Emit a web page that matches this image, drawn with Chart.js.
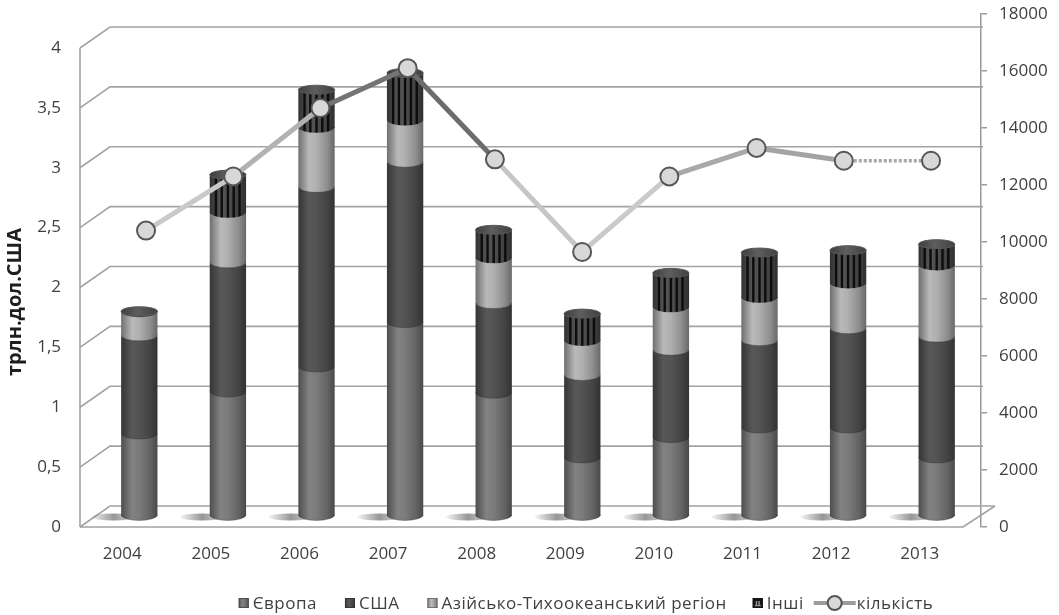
<!DOCTYPE html>
<html>
<head>
<meta charset="utf-8">
<script src="https://cdn.jsdelivr.net/npm/chart.js@4.4.1/dist/chart.umd.min.js"></script>
<style>
  html, body { margin: 0; padding: 0; background: #ffffff; }
  #wrap { width: 1059px; height: 615px; }
</style>
</head>
<body>
<div id="wrap"><canvas id="chart" width="1059" height="615"></canvas></div>
<script>
// ---- data ----
const years = ['2004', '2005', '2006', '2007', '2008', '2009', '2010', '2011', '2012', '2013'];
const europe      = [0.68, 1.03, 1.24, 1.61, 1.02, 0.48, 0.65, 0.73, 0.73, 0.48];
const usa         = [0.82, 1.08, 1.50, 1.34, 0.75, 0.69, 0.73, 0.73, 0.83, 1.01];
const asiaPacific = [0.20, 0.42, 0.50, 0.35, 0.38, 0.29, 0.36, 0.36, 0.38, 0.60];
const others      = [0.01, 0.32, 0.32, 0.40, 0.24, 0.23, 0.29, 0.38, 0.28, 0.18];
const kilkist     = [10400, 12300, 14700, 16100, 12900, 9650, 12300, 13300, 12850, 12850];

const leftTicks  = [0, 0.5, 1, 1.5, 2, 2.5, 3, 3.5, 4];
const rightTicks = [0, 2000, 4000, 6000, 8000, 10000, 12000, 14000, 16000, 18000];
const seriesNames = ['Європа', 'США', 'Азійсько-Тихоокеанський регіон', 'Інші', 'кількість'];
const axisTitle = 'трлн.дол.США';

// ---- styling ----
const barTones = [118, 80, 168, 76];          // grey level of each stacked series
const segmentGreys = ['#c9c9c9', '#b2b2b2', '#747474', '#6c6c6c', '#c6c6c6', '#cacaca', '#a9a9a9', '#a3a3a3', '#a8a8a8'];
const BAR_FRACTION = 0.41;
const TEXT = '#3f3f3f';
const FONT = '"Open Sans", "Liberation Sans", sans-serif';

function grey(v, a) {
  v = Math.max(0, Math.min(255, Math.round(v)));
  return a === undefined ? `rgb(${v},${v},${v})` : `rgba(${v},${v},${v},${a})`;
}

function cylGradient(ctx, cx, w, g) {
  const gr = ctx.createLinearGradient(cx - w / 2, 0, cx + w / 2, 0);
  gr.addColorStop(0.00, grey(g * 0.66));
  gr.addColorStop(0.30, grey(g * 1.10));
  gr.addColorStop(0.50, grey(g * 1.04));
  gr.addColorStop(0.80, grey(g * 0.84));
  gr.addColorStop(1.00, grey(g * 0.62));
  return gr;
}

function barFill(tone) {
  return (c) => {
    const ch = c.chart;
    const xs = ch.scales && ch.scales.x;
    if (!xs || !ch.chartArea) return grey(tone);
    const cx = xs.getPixelForValue(c.dataIndex);
    const w = (xs.width / years.length) * BAR_FRACTION;
    return cylGradient(ch.ctx, cx, w, tone);
  };
}

// vertical axes keep the plot area flush with the layout padding
function noEdgePadding(s) {
  s.paddingTop = 0;
  s.paddingBottom = 0;
}

// ---- 3D frame: walls, gridlines, floor and floor shadows ----
const frame3d = {
  id: 'frame3d',
  beforeDatasetsDraw(chart) {
    const ctx = chart.ctx;
    const a = chart.chartArea;
    const yl = chart.scales.yL;
    const yb = chart.scales.yBar;
    const xs = chart.scales.x;
    const fx = a.left - 15, dx = 30, dy = -21;
    ctx.save();
    ctx.strokeStyle = '#a3a3a3';
    ctx.lineWidth = 1.6;
    leftTicks.forEach((v) => {
      const y = yl.getPixelForValue(v);
      ctx.beginPath();
      ctx.moveTo(fx, y);
      ctx.lineTo(fx + dx, y + dy);
      ctx.lineTo(v === 0 ? a.right + 14 : a.right + 2, y + dy);
      ctx.stroke();
    });
    const y0 = yl.getPixelForValue(0);
    ctx.beginPath();
    ctx.moveTo(fx, yl.getPixelForValue(4));
    ctx.lineTo(fx, y0);
    ctx.stroke();
    ctx.beginPath();
    ctx.moveTo(fx, y0);
    ctx.lineTo(a.right - 18, y0);
    ctx.lineTo(a.right + 14, y0 + dy);
    ctx.stroke();

    // soft shadows on the floor, falling to the left of each column
    const base = yb.getPixelForValue(0);
    const w = (xs.width / years.length) * BAR_FRACTION;
    years.forEach((_, i) => {
      const cx = xs.getPixelForValue(i);
      const sx = cx - w / 2 - 8;
      const g = ctx.createLinearGradient(sx - 24, 0, sx + 14, 0);
      g.addColorStop(0, 'rgba(80,80,80,0)');
      g.addColorStop(0.65, 'rgba(80,80,80,0.6)');
      g.addColorStop(1, 'rgba(100,100,100,0.4)');
      ctx.fillStyle = g;
      ctx.beginPath();
      ctx.ellipse(sx, base + 1, 22, 3.4, 0, 0, Math.PI * 2);
      ctx.fill();
    });
    ctx.restore();
  }
};

// ---- cylinder details: curved seams, stripes and caps ----
const cylinders = {
  id: 'cylinders',
  beforeDatasetDraw(chart, args) {
    if (args.index !== 4) return;
    const ctx = chart.ctx;
    const ry = 4.5;
    const values = [europe, usa, asiaPacific, others];
    ctx.save();
    years.forEach((_, i) => {
      const els = [0, 1, 2, 3].map((d) => chart.getDatasetMeta(d).data[i]);
      const cx = els[0].x;
      const w = els[0].width;
      els.forEach((el, d) => {
        if (values[d][i] <= 0) return;
        ctx.fillStyle = cylGradient(ctx, cx, w, barTones[d]);
        ctx.beginPath();
        ctx.ellipse(cx, el.base - 1, w / 2, ry + 1, 0, 0, Math.PI);
        ctx.closePath();
        ctx.fill();
        ctx.strokeStyle = 'rgba(45,45,45,0.35)';
        ctx.lineWidth = 1;
        ctx.beginPath();
        ctx.ellipse(cx, el.base - 1, w / 2 - 0.5, ry + 1, 0, 0, Math.PI);
        ctx.stroke();
      });
      const e3 = els[3];
      if (others[i] > 0.05) {
        ctx.save();
        ctx.beginPath();
        ctx.rect(cx - w / 2, e3.y, w, e3.base - e3.y);
        ctx.ellipse(cx, e3.base - 1, w / 2, ry + 1, 0, 0, Math.PI);
        ctx.clip();
        ctx.strokeStyle = '#0c0c0c';
        ctx.lineWidth = 2.4;
        [-0.33, -0.17, 0, 0.16, 0.32].forEach((f) => {
          ctx.beginPath();
          ctx.moveTo(cx + f * w, e3.y);
          ctx.lineTo(cx + f * w, e3.base + ry + 1);
          ctx.stroke();
        });
        ctx.restore();
      }
      let top = els[0];
      els.forEach((el, d) => { if (values[d][i] > 0) top = el; });
      const cg = ctx.createLinearGradient(cx - w / 2, 0, cx + w / 2, 0);
      cg.addColorStop(0, '#3e3e3e');
      cg.addColorStop(0.45, '#5e5e5e');
      cg.addColorStop(1, '#404040');
      ctx.fillStyle = cg;
      ctx.strokeStyle = '#585858';
      ctx.lineWidth = 1;
      ctx.beginPath();
      ctx.ellipse(cx, top.y, w / 2, ry, 0, 0, Math.PI * 2);
      ctx.fill();
      ctx.stroke();
    });
    ctx.restore();
  }
};

// ---- rotated axis title ----
const sideTitle = {
  id: 'sideTitle',
  afterDraw(chart) {
    const ctx = chart.ctx;
    ctx.save();
    ctx.translate(15, 302);
    ctx.rotate(-Math.PI / 2);
    ctx.font = `bold 20px ${FONT}`;
    ctx.fillStyle = '#1e1e1e';
    ctx.textAlign = 'center';
    ctx.textBaseline = 'middle';
    ctx.fillText(axisTitle, 0, 0);
    ctx.restore();
  }
};

// ---- legend ----
const legendRow = {
  id: 'legendRow',
  afterDraw(chart) {
    const ctx = chart.ctx;
    const y = 603;
    const centerX = 586;
    ctx.save();
    ctx.font = `17px ${FONT}`;
    if ('letterSpacing' in ctx) ctx.letterSpacing = '0.5px';
    ctx.textBaseline = 'middle';
    const items = seriesNames.map((name, k) => ({
      name, k, icon: k === 4 ? 42 : 10, gap: k === 4 ? 1 : 4, w: ctx.measureText(name).width
    }));
    const spacing = [28, 28, 26, 10];
    let total = 0;
    items.forEach((it, k) => { total += it.icon + it.gap + it.w + (k < 4 ? spacing[k] : 0); });
    let x = centerX - total / 2;
    items.forEach((it, k) => {
      if (k < 4) {
        const tone = barTones[k];
        const g = ctx.createLinearGradient(x, 0, x + 10, 0);
        g.addColorStop(0, grey(tone * 0.75));
        g.addColorStop(0.4, grey(tone * 1.12));
        g.addColorStop(1, grey(tone * 0.7));
        ctx.fillStyle = g;
        ctx.fillRect(x, y - 5, 10, 10);
        ctx.strokeStyle = grey(tone * 0.6);
        ctx.lineWidth = 0.8;
        ctx.strokeRect(x + 0.4, y - 4.6, 9.2, 9.2);
        if (k === 3) {
          ctx.fillStyle = '#151515';
          ctx.fillRect(x, y - 5, 10, 10);
          ctx.fillStyle = '#9a9a9a';
          ctx.fillRect(x + 3, y - 2, 1.4, 5);
          ctx.fillRect(x + 5.6, y - 2, 1.4, 5);
          ctx.fillRect(x + 2, y + 2, 6, 1.2);
        }
      } else {
        ctx.strokeStyle = '#9c9c9c';
        ctx.lineWidth = 4;
        ctx.beginPath();
        ctx.moveTo(x, y);
        ctx.lineTo(x + it.icon, y);
        ctx.stroke();
        ctx.fillStyle = '#d9d9d9';
        ctx.strokeStyle = '#555555';
        ctx.lineWidth = 2;
        ctx.beginPath();
        ctx.arc(x + it.icon / 2, y, 7, 0, Math.PI * 2);
        ctx.fill();
        ctx.stroke();
      }
      x += it.icon + it.gap;
      ctx.fillStyle = TEXT;
      ctx.fillText(it.name, x, y + 1);
      x += it.w + (k < 4 ? spacing[k] : 0);
    });
    ctx.restore();
  }
};

const barSeries = [europe, usa, asiaPacific, others];

const datasets = barSeries.map((values, d) => ({
  type: 'bar',
  label: seriesNames[d],
  data: values,
  xAxisID: 'x',
  yAxisID: 'yBar',
  grouped: false,
  order: 1,
  barPercentage: BAR_FRACTION,
  categoryPercentage: 1,
  borderWidth: 0,
  backgroundColor: barFill(barTones[d])
}));

datasets.push({
  type: 'line',
  label: seriesNames[4],
  data: kilkist.map((v, i) => ({ x: i, y: v })),
  xAxisID: 'xLine',
  yAxisID: 'yR',
  order: 0,
  tension: 0,
  borderWidth: 5,
  borderColor: '#aaaaaa',
  segment: {
    borderColor: (c) => segmentGreys[c.p0DataIndex],
    borderWidth: (c) => (c.p0DataIndex === 8 ? 3.5 : 5),
    borderDash: (c) => (c.p0DataIndex === 8 ? [3, 2] : [])
  },
  pointRadius: 9,
  pointBorderWidth: 2,
  pointBorderColor: '#565656',
  pointBackgroundColor: '#d8d8d8'
});

const tickFont = { family: FONT, size: 17 };

new Chart(document.getElementById('chart'), {
  data: { labels: years, datasets },
  plugins: [frame3d, cylinders, sideTitle, legendRow],
  options: {
    responsive: false,
    devicePixelRatio: 1,
    animation: false,
    events: [],
    layout: { padding: { top: 14, left: 0, right: 0, bottom: 0 } },
    plugins: { legend: { display: false }, tooltip: { enabled: false } },
    scales: {
      x: {
        type: 'category',
        stacked: true,
        offset: true,
        grid: { display: false, drawTicks: false },
        border: { display: false },
        ticks: { font: tickFont, color: TEXT, padding: 17, labelOffset: -17, maxRotation: 0 },
        afterFit: (s) => { s.height = 88; }
      },
      xLine: {
        type: 'linear',
        display: false,
        min: -0.585,
        max: 9.573
      },
      yL: {
        type: 'linear',
        position: 'left',
        min: 0,
        max: 4.284,
        afterBuildTicks: (s) => { s.ticks = leftTicks.map((v) => ({ value: v })); },
        grid: { display: false, drawTicks: false },
        border: { display: false },
        ticks: {
          font: tickFont,
          color: TEXT,
          padding: 34,
          callback: (v) => String(v).replace('.', ',')
        },
        afterFit: (s) => { s.width = 95; noEdgePadding(s); }
      },
      yBar: {
        type: 'linear',
        display: false,
        stacked: true,
        min: -0.092,
        max: 4.192
      },
      yR: {
        type: 'linear',
        position: 'right',
        min: 0,
        max: 18000,
        afterBuildTicks: (s) => { s.ticks = rightTicks.map((v) => ({ value: v })); },
        grid: { drawOnChartArea: false, drawTicks: true, tickLength: 6, color: '#9a9a9a', lineWidth: 1.5 },
        border: { display: true, color: '#9a9a9a', width: 1.5 },
        ticks: { font: tickFont, color: TEXT, padding: 12, callback: (v) => String(v) },
        afterFit: (s) => { s.width = 78; noEdgePadding(s); }
      }
    }
  }
});
</script>
</body>
</html>
